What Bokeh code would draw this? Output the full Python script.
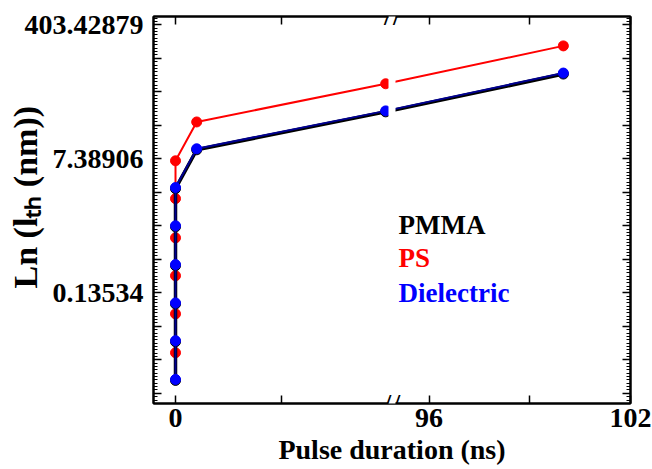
import math
from bokeh.plotting import figure
from bokeh.models import (Range1d, FixedTicker, CustomJSTickFormatter, LinearAxis, LogAxis,
                          Label, BoxAnnotation, ColumnDataSource, CustomJSTransform)
from bokeh.transform import transform
from bokeh.embed import file_html
from bokeh.resources import INLINE

# ---------------- data ----------------
pulse_ns = [0, 0, 0, 0, 0, 0, 0.6, 5.95, 100]
pmma = [0.0099, 0.0314, 0.097, 0.304, 0.97, 3.03, 9.67, 30.0, 92.7]
ps = [0.0226, 0.0721, 0.225, 0.698, 2.25, 6.96, 22.2, 69.4, 215.0]
dielectric = [0.0102, 0.0324, 0.100, 0.314, 1.00, 3.13, 9.97, 30.9, 95.6]

series_names = ["PMMA", "PS", "Dielectric"]
series_colors = ["black", "red", "blue"]

x_tick_values = [0, 3, 96, 99, 102]
x_tick_labels = ["0", "", "96", "", "102"]
y_label_exponents = [6, 2, -2]
y_label_texts = ["403.42879", "7.38906", "0.13534"]

x_title = "Pulse duration (ns)"
y_title = "Ln (l\u209c\u2095 (nm))"

# ---------------- broken x-axis geometry ----------------
L0, L1 = -0.623, 6.03     # left segment (ns)
R0, R1 = 95.0, 102.0      # right segment (ns)
W1, GAP, W2 = 235.0, 7.0, 235.0
S1 = W1 / (L1 - L0)
S2 = W2 / (R1 - R0)


def disp(x):
    return (x - L0) * S1 if x <= L1 else (W1 + GAP) + (x - R0) * S2


broken = CustomJSTransform(
    args=dict(L0=L0, L1=L1, R0=R0, S1=S1, S2=S2, OFF=W1 + GAP),
    v_func="""
    const out = new Array(xs.length);
    for (let i = 0; i < xs.length; i++) {
      const x = xs[i];
      out[i] = (x <= L1) ? (x - L0) * S1 : OFF + (x - R0) * S2;
    }
    return out;
    """,
)

LN_TOP, LN_BOT = 6.248, -5.304
PX_PER_LN = 33.5


def ypix(py):
    # pixel row (from top of canvas) -> data value (for annotation placement)
    return math.exp(6 - (py - 24.0) / PX_PER_LN)


def xpix(px):
    return px - 153.0


FONT = "Liberation Serif"

p = figure(width=652, height=469, x_range=Range1d(0, W1 + GAP + W2),
           y_range=Range1d(math.exp(LN_BOT), math.exp(LN_TOP)),
           y_axis_type="log", output_backend="svg", toolbar_location=None,
           min_border_left=153, min_border_right=22, min_border_top=16,
           min_border_bottom=66)
p.background_fill_color = "white"
p.border_fill_color = "white"
p.outline_line_color = "black"
p.outline_line_width = 2
p.xgrid.visible = False
p.ygrid.visible = False

# y ticks
y_major = [math.exp(k) for k in range(-6, 8)]
y_minor = [math.exp(k + j / 10.0) for k in range(-6, 8) for j in range(1, 10)]
y_ticker = FixedTicker(ticks=y_major, minor_ticks=y_minor)
y_fmt = CustomJSTickFormatter(args=dict(exps=y_label_exponents, texts=y_label_texts), code="""
const l = Math.log(tick);
for (let i = 0; i < exps.length; i++) { if (Math.abs(l - exps[i]) < 1e-6) return texts[i]; }
return "";
""")
blank_fmt = CustomJSTickFormatter(code="return '';")

x_ticker = FixedTicker(ticks=[disp(v) for v in x_tick_values], minor_ticks=[])
x_fmt = CustomJSTickFormatter(args=dict(pos=[disp(v) for v in x_tick_values], texts=x_tick_labels), code="""
for (let i = 0; i < pos.length; i++) { if (Math.abs(tick - pos[i]) < 1e-6) return texts[i]; }
return "";
""")


def style(ax, labels=True):
    ax.axis_line_width = 2
    ax.axis_line_color = "black"
    ax.major_tick_in = 8
    ax.major_tick_out = 0
    ax.minor_tick_in = 4
    ax.minor_tick_out = 0
    ax.major_tick_line_width = 1.5
    ax.minor_tick_line_width = 1
    ax.major_label_text_font = FONT
    ax.major_label_text_font_style = "bold"
    ax.major_label_text_font_size = "28px" if labels else "0px"
    ax.major_label_text_color = "black"
    ax.axis_label_text_font = FONT
    ax.axis_label_text_font_style = "bold"
    ax.axis_label_text_color = "black"
    if not labels:
        ax.major_label_standoff = 0


yax = p.yaxis[0]
yax.ticker = y_ticker
yax.formatter = y_fmt
style(yax)
yax.major_label_standoff = 10
yax.axis_label = "\u00a0\u00a0\u00a0" + y_title
yax.axis_label_text_font_size = "34px"
yax.axis_label_standoff = -22

xax = p.xaxis[0]
xax.ticker = x_ticker
xax.formatter = x_fmt
style(xax)
xax.major_label_standoff = 5
xax.axis_label = x_title
xax.axis_label_text_font_size = "28px"
xax.axis_label_standoff = 4

right_ax = LogAxis(ticker=y_ticker, formatter=blank_fmt)
style(right_ax, labels=False)
p.add_layout(right_ax, "right")
top_ax = LinearAxis(ticker=x_ticker, formatter=blank_fmt)
style(top_ax, labels=False)
p.add_layout(top_ax, "above")

src = ColumnDataSource(dict(x=pulse_ns, PMMA=pmma, PS=ps, Dielectric=dielectric))
xt = transform("x", broken)

# PS (red) first, then PMMA (black), then Dielectric (blue) on top
p.line(x=xt, y="PS", source=src, color="red", line_width=2)
p.scatter(x=xt, y="PS", source=src, size=10, color="red")
p.line(x=xt, y="PMMA", source=src, color="black", line_width=3.5)
p.scatter(x=xt, y="PMMA", source=src, size=10, color="black")
p.line(x=xt, y="Dielectric", source=src, color="#000090", line_width=2)
p.scatter(x=xt, y="Dielectric", source=src, size=10, color="blue")

# axis-break gap and marks
p.add_layout(BoxAnnotation(left=W1, right=W1 + GAP,
                           top=math.exp(LN_TOP + 3 / PX_PER_LN),
                           bottom=math.exp(LN_BOT - 3 / PX_PER_LN),
                           fill_color="white", fill_alpha=1.0, line_alpha=0.0))
for yy in (math.exp(LN_TOP), math.exp(LN_BOT)):
    for xx in (xpix(387), xpix(396)):
        p.add_layout(Label(x=xx, y=yy, text="/", text_font=FONT, text_font_size="26px",
                           text_font_style="bold",
                           text_align="center", text_baseline="middle", text_color="black"))

# legend texts
for name, color, mid in zip(series_names, series_colors, [224, 257.5, 292.5]):
    p.add_layout(Label(x=xpix(398), y=ypix(mid), text=name, text_font=FONT,
                       text_font_style="bold", text_font_size="27px", text_align="left",
                       text_baseline="middle", text_color=color))

open("out.html", "w").write(file_html(p, INLINE))
